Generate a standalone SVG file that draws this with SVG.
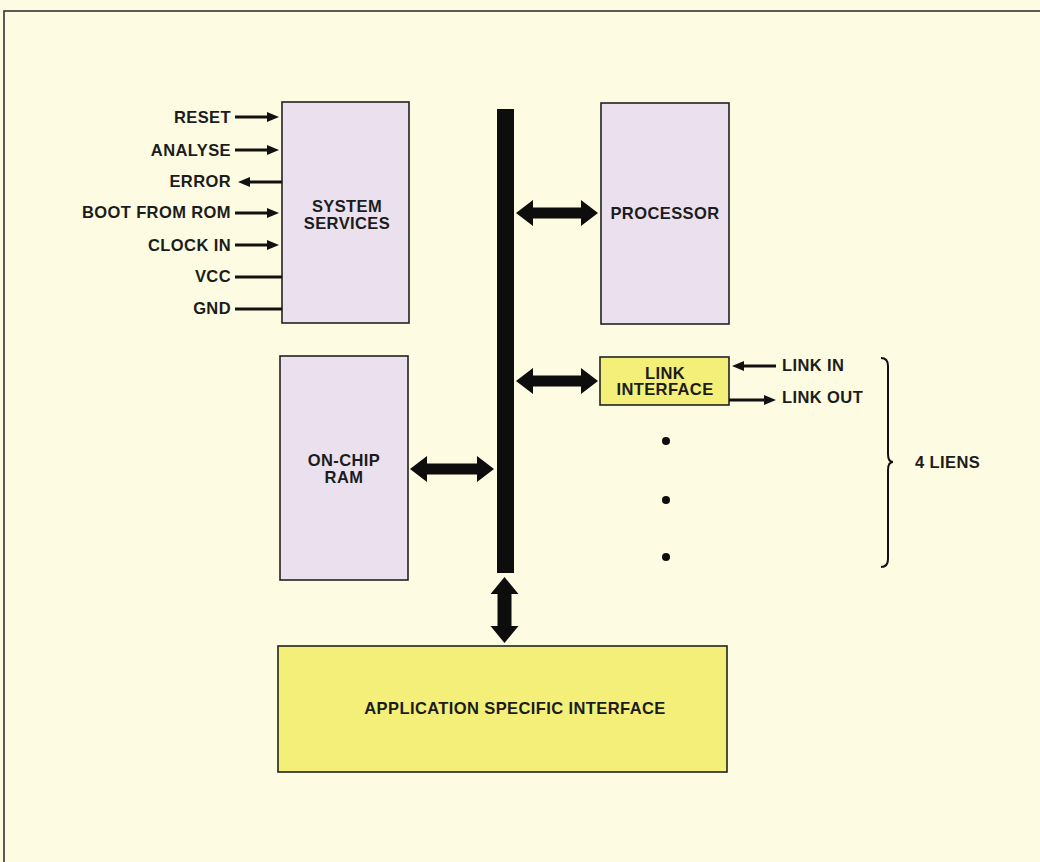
<svg xmlns="http://www.w3.org/2000/svg" width="1040" height="862" viewBox="0 0 1040 862">
<style>
.bg{fill:#fdfbe1}
.frame{fill:none;stroke:#333;stroke-width:1.6}
.lav{fill:#ebe1ee;stroke:#222;stroke-width:1.6}
.yel{fill:#f3ef78;stroke:#222;stroke-width:1.6}
.t{font-family:"Liberation Sans",Arial,Helvetica,sans-serif;font-weight:bold;font-size:16.5px;fill:#1c1c1c;letter-spacing:0.4px}
.m{text-anchor:middle}
.e{text-anchor:end}
.w{stroke:#111;stroke-width:3.2;fill:none}
.thin{stroke:#111;stroke-width:2;fill:none}
.blk{fill:#0d0d0d}
</style>
<defs>
<marker id="ah" viewBox="0 0 12 10" refX="6" refY="5" markerWidth="12" markerHeight="10" markerUnits="userSpaceOnUse" orient="auto">
<path d="M0,0 L12,5 L0,10 z" fill="#111"/>
</marker>
</defs>
<rect class="bg" x="0" y="0" width="1040" height="862"/>
<rect class="frame" x="4" y="11" width="1100" height="900"/>

<g id="system-services">
<rect class="lav" x="282" y="102" width="127" height="221"/>
<text class="t m" x="347" y="212">SYSTEM</text>
<text class="t m" x="347" y="229">SERVICES</text>
</g>
<g id="processor">
<rect class="lav" x="601" y="103" width="128" height="221"/>
<text class="t m" x="665" y="219">PROCESSOR</text>
</g>
<g id="link-interface">
<rect class="yel" x="600" y="357" width="129" height="48"/>
<text class="t m" x="665" y="379">LINK</text>
<text class="t m" x="665" y="395">INTERFACE</text>
</g>
<g id="on-chip-ram">
<rect class="lav" x="280" y="356" width="128" height="224"/>
<text class="t m" x="344" y="466">ON-CHIP</text>
<text class="t m" x="344" y="483">RAM</text>
</g>
<g id="application-specific-interface">
<rect class="yel" x="278" y="646" width="449" height="126"/>
<text class="t m" x="515" y="714">APPLICATION SPECIFIC INTERFACE</text>
</g>
<g id="bus">
<rect class="blk" x="497" y="109" width="17" height="464"/>
</g>
<g id="signals">
<text class="t e" x="231" y="123">RESET</text>
<text class="t e" x="231" y="156">ANALYSE</text>
<text class="t e" x="231" y="187">ERROR</text>
<text class="t e" x="231" y="218">BOOT FROM ROM</text>
<text class="t e" x="231" y="251">CLOCK IN</text>
<text class="t e" x="231" y="282">VCC</text>
<text class="t e" x="231" y="314">GND</text>
<text class="t" x="782" y="371">LINK IN</text>
<text class="t" x="782" y="403">LINK OUT</text>
<text class="t" x="915" y="468">4 LIENS</text>
</g>
<g id="connectors">
<line class="w" x1="235" y1="117" x2="273" y2="117" marker-end="url(#ah)"/>
<line class="w" x1="235" y1="150" x2="273" y2="150" marker-end="url(#ah)"/>
<line class="w" x1="282" y1="182" x2="244" y2="182" marker-end="url(#ah)"/>
<line class="w" x1="235" y1="213" x2="273" y2="213" marker-end="url(#ah)"/>
<line class="w" x1="235" y1="245" x2="273" y2="245" marker-end="url(#ah)"/>
<line class="w" x1="235" y1="277" x2="282" y2="277"/>
<line class="w" x1="235" y1="309" x2="282" y2="309"/>
<line class="w" x1="776" y1="366" x2="738" y2="366" marker-end="url(#ah)"/>
<line class="w" x1="729" y1="400" x2="770" y2="400" marker-end="url(#ah)"/>
<polygon class="blk" points="516,213 533,200 533,207.5 581,207.5 581,200 598,213 581,226 581,218.5 533,218.5 533,226"/>
<polygon class="blk" points="516,381 533,368 533,375.5 581,375.5 581,368 598,381 581,394 581,386.5 533,386.5 533,394"/>
<polygon class="blk" points="410,469 427,456 427,463.5 477,463.5 477,456 494,469 477,482 477,474.5 427,474.5 427,482"/>
<polygon class="blk" points="504.5,577 518.5,594 511.5,594 511.5,626 518.5,626 504.5,643 490.5,626 497.5,626 497.5,594 490.5,594"/>
<circle class="blk" cx="666" cy="441" r="4"/>
<circle class="blk" cx="666" cy="500" r="4"/>
<circle class="blk" cx="666" cy="557" r="4"/>
<path class="thin" d="M881,358 Q888,358 888,366 L888,454 Q888,462 893,462 Q888,462 888,470 L888,559 Q888,567 881,567"/>
</g>
</svg>
